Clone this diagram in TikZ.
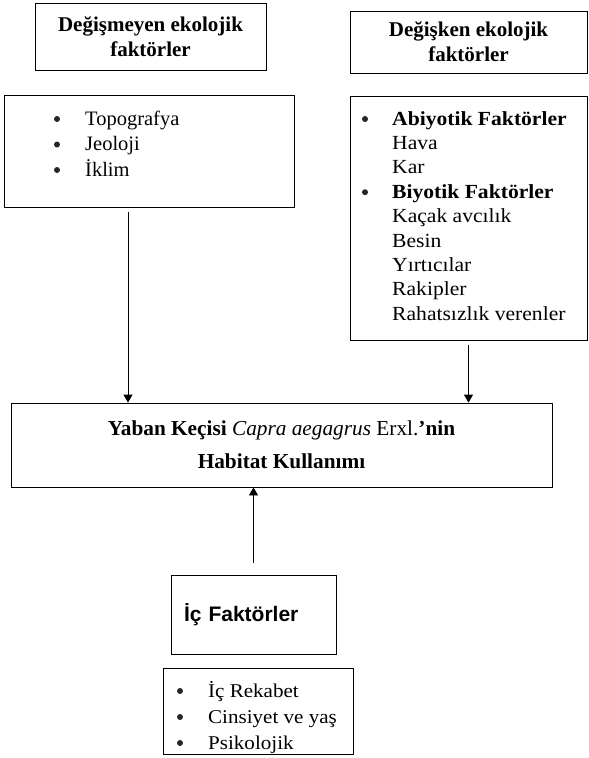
\documentclass[tikz,border=0pt]{standalone}
\usepackage{fontspec}
\setmainfont{Liberation Serif}
\newfontfamily\arialfont{Liberation Sans}
\newfontfamily\genisfont{Liberation Serif}[FakeStretch=1.08]
\usetikzlibrary{arrows.meta}

\begin{document}
\begin{tikzpicture}[x=1pt,y=-1pt,
	kutu/.style={draw, line width=0.8pt, inner sep=0pt},
	ok/.style={-{Triangle[length=8pt,width=9pt]}, line width=0.8pt},
	satir/.style={anchor=base west, inner sep=0pt},
	imlec/.style={circle, fill=black!85, inner sep=0pt, minimum size=6pt}]
	
	\useasboundingbox (0,0) rectangle (589,758); % page size
	
	\def\ls{25.5}; % line step, left list
	\def\rs{24.4}; % line step, right list
	\def\bs{26};   % line step, bottom list
	
	% heading boxes
	\node[kutu, minimum width=231pt, minimum height=67pt, align=center,
		font=\bfseries\fontsize{21}{25}\selectfont] (degismeyen) at (150.5,36.5)
		{Değişmeyen ekolojik\\faktörler};
	\node[kutu, minimum width=237pt, minimum height=62pt, align=center,
		font=\bfseries\fontsize{21}{25}\selectfont] (degisken) at (468.5,42)
		{Değişken ekolojik\\faktörler};
	
	% list boxes
	\node[kutu, minimum width=290pt, minimum height=112pt] (sabit) at (149,151) {};
	\node[kutu, minimum width=237pt, minimum height=244pt] (degisen) at (468.5,218) {};
	
	\foreach \t [count=\i] in {Topografya, Jeoloji, İklim}{% one line per item
		\node[satir, font=\fontsize{20.5}{25}\selectfont] (sab\i) at (85,{125+(\i-1)*\ls}) {\t};
		\node[imlec] (sabb\i) at (57,{119+(\i-1)*\ls}) {};
	}
	
	\foreach \t/\b [count=\i] in {Abiyotik Faktörler/1, Hava/0, Kar/0,
		Biyotik Faktörler/1, Kaçak avcılık/0, Besin/0, Yırtıcılar/0,
		Rakipler/0, Rahatsızlık verenler/0}{% \b=1 marks a bold bullet line
		\node[satir, font=\genisfont\fontsize{20}{24}\selectfont] (deg\i) at (392,{125+(\i-1)*\rs})
			{\ifnum\b=1\bfseries\fi\t};
		\ifnum\b=1
		\node[imlec] (degb\i) at (365,{119+(\i-1)*\rs}) {};
		\fi
	}
	
	% main box
	\node[kutu, minimum width=541pt, minimum height=84pt, align=center,
		font=\fontsize{21.3}{33}\selectfont] (habitat) at (281.5,445)
		{\textbf{Yaban Keçisi} \textit{Capra aegagrus} Erxl.\textbf{’nin}\\\textbf{Habitat Kullanımı}};
	
	% inner factors
	\node[kutu, minimum width=165pt, minimum height=79pt, inner xsep=13pt,
		text width=139pt, align=left, font=\arialfont\bfseries\fontsize{21}{25}\selectfont]
		(ic) at (253.5,614.5) {İç Faktörler};
	\node[kutu, minimum width=190pt, minimum height=86pt] (iclist) at (258,711) {};
	
	\foreach \t [count=\i] in {İç Rekabet, Cinsiyet ve yaş, Psikolojik}{%
		\node[satir, font=\genisfont\fontsize{19.5}{25}\selectfont] (icl\i) at (208,{697+(\i-1)*\bs}) {\t};
		\node[imlec] (iclb\i) at (180,{691+(\i-1)*\bs}) {};
	}
	
	% arrows
	\coordinate (ok1) at ([xshift=-21pt]sabit.south);
	\draw[ok, shorten <=5pt] (ok1) -- (ok1 |- habitat.north);
	\draw[ok, shorten <=5pt] (degisen.south) -- (degisen.south |- habitat.north);
	\draw[ok, shorten <=12pt] (ic.north) -- (ic.north |- habitat.south);
	
\end{tikzpicture}
\end{document}
